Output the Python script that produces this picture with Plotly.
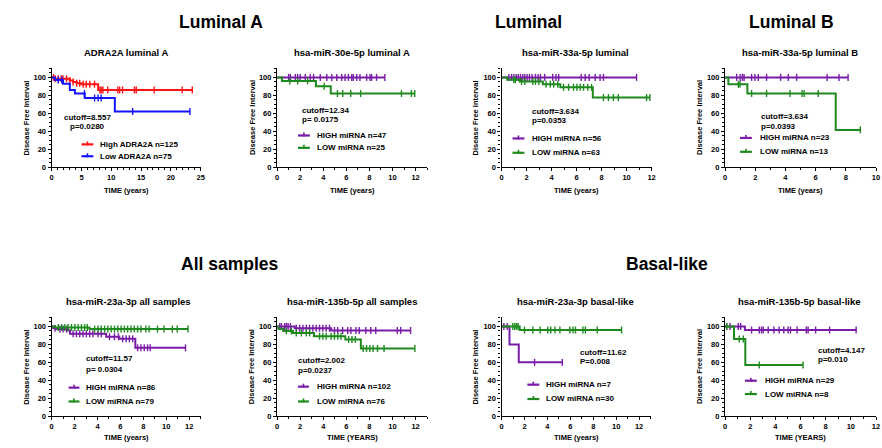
import plotly.graph_objects as go

FONT = "Liberation Sans"
W, H = 882, 448
RED = "#FF1414"
BLUE = "#1414FF"
PURPLE = "#7A1CA8"
GREEN = "#1E8A1E"

# ---------------- data (time in years, survival in %) ----------------
# Panel 1: ADRA2A luminal A
p1_high_t = [0, 0.5, 3.0, 3.6, 4.2, 5.0, 7.8]
p1_high_s = [100, 98.5, 96.5, 95, 93.5, 92.5, 86]
p1_high_c = [0.3, 0.6, 1.1, 1.6, 1.9, 2.5, 3.1, 3.6, 4.2, 4.7, 5.3, 5.8, 6.4, 7.2,
             8.1, 8.3, 8.6, 9.4, 11.1, 11.4, 11.9, 13.9, 14.2, 17.2, 21.9, 23.6]
p1_low_t = [0, 0.55, 1.9, 3.05, 3.9, 5.55, 10.6]
p1_low_s = [100, 97, 93, 86, 82, 77, 62]
p1_low_c = [1.1, 1.7, 5.5, 7.2, 7.8, 8.3, 13.6, 23.2]

# Panel 2: hsa-miR-30e-5p luminal A
p2_high_t = [0]
p2_high_s = [100]
p2_high_c = [1.0, 1.15, 1.58, 1.78, 2.0, 2.44, 2.87, 3.16, 3.74, 4.31, 4.74, 5.17, 5.6,
             5.89, 6.18, 6.47, 6.6, 6.9, 7.18, 7.76, 8.05, 8.19, 8.62, 9.34]
p2_low_t = [0, 0.43, 3.36, 4.65]
p2_low_s = [100, 96, 90, 82]
p2_low_c = [1.1, 1.78, 2.64, 4.08, 5.23, 5.69, 6.38, 7.24, 10.78, 11.64, 11.93]

# Panel 3: hsa-miR-33a-5p luminal
p3_high_t = [0]
p3_high_s = [100]
p3_high_c = [0.58, 0.8, 0.98, 1.17, 1.33, 1.51, 1.7, 1.86, 2.04, 2.23, 2.44, 2.71, 2.92,
             3.11, 3.45, 4.09, 4.35, 4.57, 6.37, 6.69, 7.01, 7.49, 7.88, 8.15, 10.8]
p3_low_t = [0, 0.45, 1.45, 3.3, 4.7, 7.3]
p3_low_s = [100, 97.5, 95.5, 92.5, 89, 77.5]
p3_low_c = [0.98, 1.1, 1.6, 1.86, 2.5, 2.71, 2.98, 3.56, 3.9, 4.17, 4.5, 4.96, 5.36,
            5.76, 6.03, 6.29, 6.56, 6.9, 7.2, 8.15, 8.55, 8.95, 9.34, 11.6, 11.87]

# Panel 4: hsa-miR-33a-5p luminal B
p4_high_t = [0]
p4_high_s = [100]
p4_high_c = [0.77, 1.0, 1.15, 1.26, 1.76, 1.98, 2.2, 2.75, 3.68, 4.19, 4.74, 6.76, 7.55, 8.15]
p4_low_t = [0, 0.22, 1.48, 7.33]
p4_low_s = [100, 92.3, 82.1, 41.5]
p4_low_c = [0.88, 0.99, 1.76, 2.75, 4.3, 5.1, 5.24, 6.17, 8.96]

# Panel 5: hsa-miR-23a-3p all samples
p5_high_t = [0, 0.14, 0.4, 1.44, 1.6, 4.76, 5.9, 7.3]
p5_high_s = [100, 98, 97, 95.5, 91.8, 88.5, 86.2, 76.2]
p5_high_c = [0.29, 0.72, 1.0, 1.3, 1.87, 2.16, 2.45, 2.74, 3.03, 3.32, 3.6, 4.04, 4.33,
             5.05, 5.48, 5.83, 6.2, 6.5, 6.78, 7.07, 7.5, 7.79, 8.08, 8.37, 8.6, 11.68]
p5_low_t = [0, 0.3, 3.3]
p5_low_s = [100, 98.8, 97]
p5_low_c = [0.58, 0.87, 1.15, 1.44, 1.73, 2.02, 2.31, 2.6, 2.88, 3.11, 3.75, 4.04, 4.33,
            4.62, 4.9, 5.19, 5.48, 5.77, 6.06, 6.35, 6.63, 6.92, 7.21, 7.5, 7.79, 8.22,
            8.51, 9.23, 9.81, 10.53, 10.96, 11.9]

# Panel 6: hsa-miR-135b-5p all samples
p6_high_t = [0, 1.52, 4.68]
p6_high_s = [100, 98, 95.5]
p6_high_c = [0.23, 0.37, 0.66, 0.8, 0.95, 1.15, 1.66, 1.95, 2.24, 2.53, 2.81, 3.1, 3.39,
             3.68, 3.96, 4.25, 4.54, 4.97, 5.25, 5.68, 6.12, 6.4, 6.83, 7.12, 7.69, 8.12,
             8.55, 10.42, 10.71, 11.57]
p6_low_t = [0, 0.1, 0.52, 1.38, 3.19, 5.91, 7.26]
p6_low_s = [100, 97.5, 95, 92.7, 89, 85.5, 75.5]
p6_low_c = [0.8, 1.23, 1.66, 2.1, 2.53, 2.81, 3.68, 3.96, 4.25, 4.68, 4.97, 5.25, 5.54,
            6.2, 6.49, 6.78, 7.46, 7.75, 8.04, 8.32, 8.7, 9.27, 11.94]

# Panel 7: hsa-miR-23a-3p basal-like
p7_high_t = [0, 0.69, 1.5]
p7_high_s = [100, 80, 60]
p7_high_c = [0.2, 0.49, 2.88, 5.3]
p7_low_t = [0, 1.58]
p7_low_s = [100, 96]
p7_low_c = [0.98, 1.15, 1.3, 1.44, 2.0, 2.73, 3.37, 4.03, 4.29, 4.66, 5.09, 5.96, 6.24,
            6.45, 7.1, 7.31, 8.35, 10.47]

# Panel 8: hsa-miR-135b-5p basal-like
p8_high_t = [0, 1.58]
p8_high_s = [100, 96]
p8_high_c = [0.13, 0.4, 1.05, 1.24, 2.11, 2.72, 2.9, 3.03, 3.43, 3.88, 4.3, 4.67, 5.01,
             5.2, 5.73, 6.46, 6.6, 7.2, 8.31, 10.42]
p8_low_t = [0, 0.71, 1.61]
p8_low_s = [100, 86, 57]
p8_low_c = [0.13, 1.13, 1.45, 2.72, 6.2]

titles = ["ADRA2A luminal A", "hsa-miR-30e-5p luminal A", "hsa-miR-33a-5p luminal",
          "hsa-miR-33a-5p luminal B", "hsa-miR-23a-3p all samples",
          "hsa-miR-135b-5p all samples", "hsa-miR-23a-3p basal-like",
          "hsa-miR-135b-5p basal-like"]
xtitles = ["TIME (years)", "TIME (years)", "TIME (years)", "TIME (years)",
           "TIME (years)", "TIME (YEARS)", "TIME (years)", "TIME (YEARS)"]
cutoff_lines = [("cutoff=8.557", "p=0.0280"), ("cutoff=12.34", "p= 0.0175"),
                ("cutoff=3.634", "p=0.0353"), ("cutoff=3.634", "p=0.0393"),
                ("cutoff=11.57", "p= 0.0304"), ("cutoff=2.002", "p=0.0237"),
                ("cutoff=11.62", "P=0.008"), ("cutoff=4.147", "p=0.010")]
legend_labels = [("High ADRA2A n=125", "Low ADRA2A n=75"),
                 ("HIGH miRNA n=47", "LOW miRNA n=25"),
                 ("HIGH miRNA n=56", "LOW miRNA n=63"),
                 ("HIGH miRNA n=23", "LOW miRNA n=13"),
                 ("HIGH miRNA n=86", "LOW miRNA n=79"),
                 ("HIGH miRNA n=102", "LOW miRNA n=76"),
                 ("HIGH miRNA n=7", "LOW miRNA n=30"),
                 ("HIGH miRNA n=29", "LOW miRNA n=8")]
x_max = [25, 13, 12, 10, 13, 13, 13, 12]
x_dtick = [5, 2, 2, 2, 2, 2, 2, 2]
headings = [("Luminal A", 221, 22), ("Luminal", 530, 22), ("Luminal B", 795, 22),
            ("All samples", 230, 267), ("Basal-like", 670, 267)]

series = [
    ((p1_high_t, p1_high_s, p1_high_c, RED), (p1_low_t, p1_low_s, p1_low_c, BLUE)),
    ((p2_high_t, p2_high_s, p2_high_c, PURPLE), (p2_low_t, p2_low_s, p2_low_c, GREEN)),
    ((p3_high_t, p3_high_s, p3_high_c, PURPLE), (p3_low_t, p3_low_s, p3_low_c, GREEN)),
    ((p4_high_t, p4_high_s, p4_high_c, PURPLE), (p4_low_t, p4_low_s, p4_low_c, GREEN)),
    ((p5_high_t, p5_high_s, p5_high_c, PURPLE), (p5_low_t, p5_low_s, p5_low_c, GREEN)),
    ((p6_high_t, p6_high_s, p6_high_c, PURPLE), (p6_low_t, p6_low_s, p6_low_c, GREEN)),
    ((p7_high_t, p7_high_s, p7_high_c, PURPLE), (p7_low_t, p7_low_s, p7_low_c, GREEN)),
    ((p8_high_t, p8_high_s, p8_high_c, PURPLE), (p8_low_t, p8_low_s, p8_low_c, GREEN)),
]

# ---------------- layout geometry (pixels) ----------------
x_dom_px = [(50, 200), (277, 428), (503, 654), (728, 880),
            (50, 200), (277, 428), (503, 653), (728, 880)]
y_dom_px = [(169, 69.2)] * 4 + [(421, 321)] * 4
title_pos = [(125, 53), (352, 53), (577, 53), (803, 53),
             (127, 305), (352, 305), (577, 305), (803, 305)]
ytitle_x = [25, 252, 477, 703, 25, 252, 477, 703]
xtitle_y = [193] * 4 + [442] * 4
cutoff_pos = [(86, 119, 128, "center"), (300, 112, 121, "left"), (532, 113, 122, "left"),
              (762, 118, 127.5, "left"), (83, 363, 373.5, "left"), (296, 365, 375, "left"),
              (580, 356, 366, "left"), (820, 354.5, 364, "left")]
legend_pos = [(80, 92, 97, 146, 158), (298, 310, 315, 137, 149.5), (514, 526, 532, 140, 154.5),
              (743, 755, 761, 139.5, 153.5), (67, 78, 83, 392, 406), (298, 309, 315, 391, 406),
              (529, 541, 546, 389, 403.5), (748, 760, 766, 385, 398.5)]


def px(x):
    return x / W


def py(y):
    return 1 - y / H


def surv_at(t, s, times):
    out = []
    for c in times:
        v = s[0]
        for ti, si in zip(t, s):
            if ti <= c:
                v = si
        out.append(v)
    return out


fig = go.Figure()
bold = dict(family=FONT, color="black", weight="bold")
annotations = []
shapes = []

for i in range(8):
    k = "" if i == 0 else str(i + 1)
    xa, ya = "x" + k, "y" + k
    for (t, s, c, col) in series[i]:
        end = max(c + [t[-1]])
        fig.add_trace(go.Scatter(x=t + [end], y=s + [s[-1]], mode="lines",
                                 line=dict(color=col, width=2, shape="hv"),
                                 xaxis=xa, yaxis=ya, showlegend=False, hoverinfo="skip",
                                 cliponaxis=False))
        fig.add_trace(go.Scatter(x=c, y=surv_at(t, s, c), mode="markers",
                                 marker=dict(symbol="line-ns-open", size=5, color=col,
                                             line=dict(color=col, width=1.4)),
                                 xaxis=xa, yaxis=ya, showlegend=False, hoverinfo="skip",
                                 cliponaxis=False))
    x0, x1 = x_dom_px[i]
    yb, yt = y_dom_px[i]
    fig.layout["xaxis" + k] = dict(
        domain=[px(x0), px(x1)], range=[0, x_max[i]], anchor=ya,
        tickmode="linear", tick0=0, dtick=x_dtick[i],
        showline=True, linecolor="black", linewidth=1.3,
        ticks="outside", ticklen=3, tickwidth=1.3, tickcolor="black",
        minor=dict(ticks="outside", ticklen=2, tickwidth=1, tickcolor="black",
                   tickmode="linear", tick0=0, dtick=x_dtick[i] / (5 if x_dtick[i] == 5 else 2)),
        showgrid=False, zeroline=False, tickfont=dict(size=7.5, **bold), fixedrange=True)
    fig.layout["yaxis" + k] = dict(
        domain=[py(yb), py(yt)], range=[0, 110], anchor=xa,
        tickmode="linear", tick0=0, dtick=20,
        showline=True, linecolor="black", linewidth=1.3,
        ticks="outside", ticklen=3, tickwidth=1.3, tickcolor="black",
        minor=dict(ticks="outside", ticklen=2, tickwidth=1, tickcolor="black",
                   tickmode="linear", tick0=0, dtick=5),
        showgrid=False, zeroline=False, tickfont=dict(size=7.5, **bold), fixedrange=True)

    # panel title
    tx, ty = title_pos[i]
    annotations.append(dict(x=px(tx), y=py(ty), xref="paper", yref="paper",
                            text=titles[i], showarrow=False, xanchor="center",
                            yanchor="middle", font=dict(size=9.5, **bold)))
    # axis titles
    annotations.append(dict(x=px(ytitle_x[i]), y=py((yb + yt) / 2), xref="paper", yref="paper",
                            text="Disease Free Interval", textangle=-90, showarrow=False,
                            xanchor="center", yanchor="middle", font=dict(size=7.5, **bold)))
    annotations.append(dict(x=px((x0 + x1) / 2), y=py(xtitle_y[i]), xref="paper", yref="paper",
                            text=xtitles[i], showarrow=False, xanchor="center",
                            yanchor="middle", font=dict(size=7.5, **bold)))
    # cutoff / p text
    cx, cy1, cy2, anc = cutoff_pos[i]
    for txt, yy in zip(cutoff_lines[i], (cy1, cy2)):
        annotations.append(dict(x=px(cx), y=py(yy), xref="paper", yref="paper",
                                text=txt, showarrow=False, xanchor=anc,
                                yanchor="middle", font=dict(size=8, **bold)))
    # legend
    lx1, lx2, ltx, ly1, ly2 = legend_pos[i]
    for (t, s, c, col), lab, yy in zip(series[i], legend_labels[i], (ly1, ly2)):
        shapes.append(dict(type="line", xref="paper", yref="paper",
                           x0=px(lx1), x1=px(lx2), y0=py(yy), y1=py(yy),
                           line=dict(color=col, width=2.2)))
        mx = (lx1 + lx2) / 2
        shapes.append(dict(type="line", xref="paper", yref="paper",
                           x0=px(mx), x1=px(mx), y0=py(yy + 1), y1=py(yy - 3),
                           line=dict(color=col, width=1.6)))
        annotations.append(dict(x=px(ltx), y=py(yy), xref="paper", yref="paper",
                                text=lab, showarrow=False, xanchor="left",
                                yanchor="middle", font=dict(size=8, **bold)))

for txt, hx, hy in headings:
    annotations.append(dict(x=px(hx), y=py(hy), xref="paper", yref="paper", text=txt,
                            showarrow=False, xanchor="center", yanchor="middle",
                            font=dict(size=17.5, **bold)))

fig.update_layout(width=W, height=H, autosize=False,
                  margin=dict(l=0, r=0, t=0, b=0),
                  paper_bgcolor="white", plot_bgcolor="white",
                  annotations=annotations, shapes=shapes)

fig.write_html("out.html", config={"displayModeBar": False},
               post_script="document.body.style.margin='0px';"
                           "document.body.style.overflow='hidden';")
